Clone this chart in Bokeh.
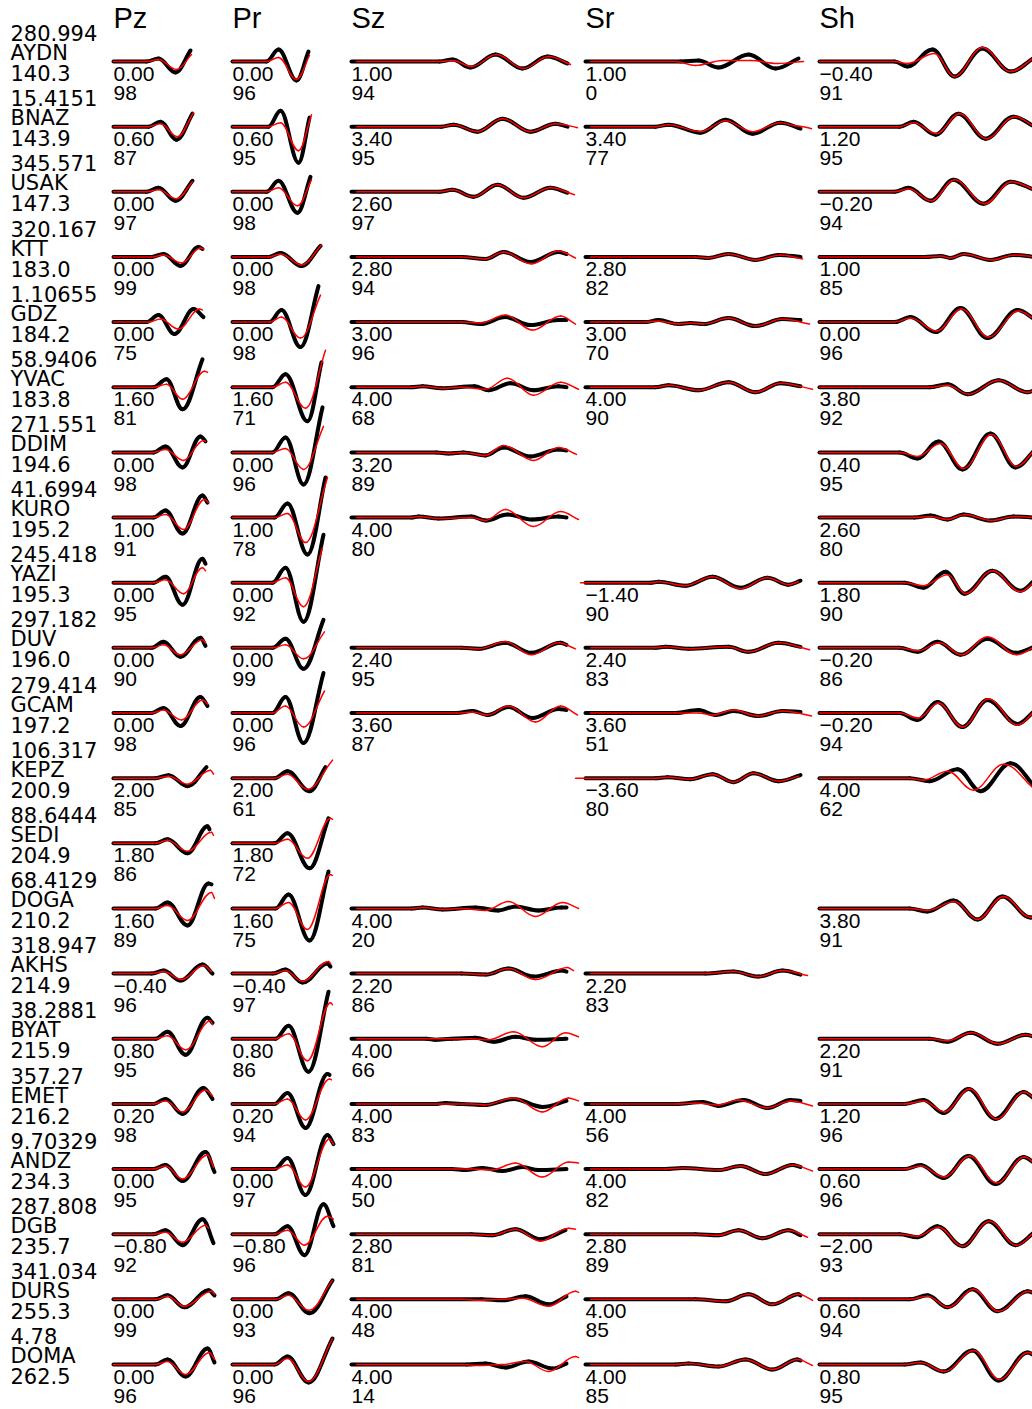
from bokeh.plotting import figure
from bokeh.models import Range1d, ColumnDataSource
from bokeh.embed import file_html
from bokeh.resources import INLINE
from bokeh.core.properties import value

# ---------------- data ----------------
STATIONS = ["AYDN", "BNAZ", "USAK", "KTT", "GDZ", "YVAC", "DDIM", "KURO", "YAZI", "DUV", "GCAM",
            "KEPZ", "SEDI", "DOGA", "AKHS", "BYAT", "EMET", "ANDZ", "DGB", "DURS", "DOMA"]
AZIMUTHS = [280.994, 15.4151, 345.571, 320.167, 1.10655, 58.9406, 271.551, 41.6994, 245.418, 297.182,
            279.414, 106.317, 88.6444, 68.4129, 318.947, 38.2881, 357.27, 9.70329, 287.808, 341.034, 4.78]
DISTANCES = [140.3, 143.9, 147.3, 183.0, 184.2, 183.8, 194.6, 195.2, 195.3, 196.0, 197.2,
             200.9, 204.9, 210.2, 214.9, 215.9, 216.2, 234.3, 235.7, 255.3, 262.5]
COMPONENTS = ["Pz", "Pr", "Sz", "Sr", "Sh"]

SHIFT_PZ = [0.00, 0.60, 0.00, 0.00, 0.00, 1.60, 0.00, 1.00, 0.00, 0.00, 0.00, 2.00, 1.80, 1.60, -0.40, 0.80, 0.20, 0.00, -0.80, 0.00, 0.00]
CC_PZ = [98, 87, 97, 99, 75, 81, 98, 91, 95, 90, 98, 85, 86, 89, 96, 95, 98, 95, 92, 99, 96]
SHIFT_PR = [0.00, 0.60, 0.00, 0.00, 0.00, 1.60, 0.00, 1.00, 0.00, 0.00, 0.00, 2.00, 1.80, 1.60, -0.40, 0.80, 0.20, 0.00, -0.80, 0.00, 0.00]
CC_PR = [96, 95, 98, 98, 98, 71, 96, 78, 92, 99, 96, 61, 72, 75, 97, 86, 94, 97, 96, 93, 96]
SHIFT_SZ = [1.00, 3.40, 2.60, 2.80, 3.00, 4.00, 3.20, 4.00, None, 2.40, 3.60, None, None, 4.00, 2.20, 4.00, 4.00, 4.00, 2.80, 4.00, 4.00]
CC_SZ = [94, 95, 97, 94, 96, 68, 89, 80, None, 95, 87, None, None, 20, 86, 66, 83, 50, 81, 48, 14]
SHIFT_SR = [1.00, 3.40, None, 2.80, 3.00, 4.00, None, None, -1.40, 2.40, 3.60, -3.60, None, None, 2.20, None, 4.00, 4.00, 2.80, 4.00, 4.00]
CC_SR = [0, 77, None, 82, 70, 90, None, None, 90, 83, 51, 80, None, None, 83, None, 56, 82, 89, 85, 85]
SHIFT_SH = [-0.40, 1.20, -0.20, 1.00, 0.00, 3.80, 0.40, 2.60, 1.80, -0.20, -0.20, 4.00, None, 3.80, None, 2.20, 1.20, 0.60, -2.00, 0.60, 0.80]
CC_SH = [91, 95, 94, 85, 96, 92, 95, 80, 90, 86, 94, 62, None, 91, None, 91, 96, 96, 93, 94, 95]

# waveform turning points: (time sample, amplitude), observed (black) and synthetic (red)
PZ_OBS = [
    [(0, 0), (33, 0), (45, 3), (62, -11), (77, 11)],
    [(0, 0), (35, 0), (47, 5), (63, -13), (79, 13)],
    [(0, 0), (33, 0), (45, 4), (62, -9), (79, 11)],
    [(0, 0), (38, 0), (50, 3), (67, -9), (85, 10), (89, 8)],
    [(0, 0), (33, 0), (45, 7), (61, -12), (80, 13), (90, 5)],
    [(0, 0), (40, 0), (53, 8), (69, -22), (89, 28)],
    [(0, 0), (40, 0), (52, 6), (69, -15), (87, 16), (92, 11)],
    [(0, 0), (40, 0), (52, 7), (69, -16), (89, 22), (94, 15)],
    [(0, 0), (40, 0), (52, 6), (69, -22), (89, 24), (92, 19)],
    [(0, 0), (38, 0), (50, 6), (67, -9), (87, 10), (92, 2)],
    [(0, 0), (38, 0), (50, 5), (67, -13), (87, 16), (94, 7)],
    [(0, 0), (42, 0), (55, 3), (74, -8), (93, 11)],
    [(0, 0), (42, 0), (54, 4), (74, -10), (94, 17), (96, 14)],
    [(0, 0), (42, 0), (54, 6), (74, -17), (95, 25), (98, 24)],
    [(0, 0), (38, 0), (50, 3), (67, -7), (89, 9), (99, 0)],
    [(0, 0), (42, 0), (54, 7), (72, -16), (94, 21), (99, 16)],
    [(0, 0), (40, 0), (52, 5), (69, -10), (90, 16), (99, 5)],
    [(0, 0), (40, 0), (52, 4), (69, -12), (92, 17), (101, -3)],
    [(0, 0), (40, 0), (52, 4), (69, -11), (89, 15), (100, -9)],
    [(0, 0), (42, 0), (54, 4), (71, -8), (95, 9), (101, 4)],
    [(0, 0), (42, 0), (54, 5), (72, -12), (94, 16), (101, 2)],
]
PZ_SYN = [
    [(0, 0), (33, 0), (45, 2), (63, -8), (78, 7)],
    [(0, 0), (35, 0), (47, 3), (64, -10), (80, 14)],
    [(0, 0), (33, 0), (45, 2), (63, -7), (79, 10)],
    [(0, 0), (38, 0), (50, 2), (68, -6), (87, 9), (90, 8)],
    [(0, 0), (35, 0), (47, 3), (65, -7), (86, 13), (89, 12)],
    [(0, 0), (40, 0), (53, 3), (69, -12), (91, 16), (94, 15)],
    [(0, 0), (40, 0), (52, 3), (70, -8), (90, 12), (92, 11)],
    [(0, 0), (40, 0), (52, 3), (70, -12), (91, 18), (95, 15)],
    [(0, 0), (40, 0), (52, 3), (70, -11), (89, 15), (92, 12)],
    [(0, 0), (38, 0), (50, 3), (67, -7), (89, 8), (92, 5)],
    [(0, 0), (38, 0), (50, 3), (68, -7), (89, 13), (94, 9)],
    [(0, 0), (42, 0), (55, 2), (74, -6), (97, 8), (100, 4)],
    [(0, 0), (42, 0), (54, 3), (74, -8), (98, 11), (100, 8)],
    [(0, 0), (42, 0), (54, 3), (74, -12), (98, 16), (101, 10)],
    [(0, 0), (38, 0), (50, 2), (68, -6), (90, 8), (98, 2)],
    [(0, 0), (42, 0), (54, 3), (72, -11), (97, 18), (99, 14)],
    [(0, 0), (40, 0), (52, 3), (69, -8), (92, 14), (99, 8)],
    [(0, 0), (40, 0), (52, 3), (69, -10), (94, 14), (100, 2)],
    [(0, 0), (40, 0), (52, 2), (69, -8), (92, 9), (95, 6)],
    [(0, 0), (42, 0), (54, 3), (71, -7), (98, 8), (101, 5)],
    [(0, 0), (42, 0), (54, 3), (72, -10), (96, 12), (101, 5)],
]
PR_OBS = [
    [(0, 0), (34, 0), (46, 12), (64, -19), (76, 10)],
    [(0, 0), (36, 0), (48, 16), (66, -36), (77, 9)],
    [(0, 0), (34, 0), (46, 11), (65, -21), (78, 15)],
    [(0, 0), (36, 0), (48, 4), (69, -9), (88, 11)],
    [(0, 0), (37, 0), (49, 12), (68, -25), (86, 36)],
    [(0, 0), (40, 0), (53, 13), (75, -34), (89, 25)],
    [(0, 0), (40, 0), (53, 15), (71, -32), (90, 45)],
    [(0, 0), (42, 0), (55, 14), (75, -37), (93, 40)],
    [(0, 0), (40, 0), (53, 15), (71, -39), (91, 48)],
    [(0, 0), (40, 0), (53, 9), (71, -21), (91, 28)],
    [(0, 0), (40, 0), (53, 16), (71, -30), (91, 40)],
    [(0, 0), (42, 0), (55, 7), (77, -13), (93, 11)],
    [(0, 0), (42, 0), (55, 10), (77, -25), (96, 25)],
    [(0, 0), (43, 0), (56, 14), (77, -32), (96, 37)],
    [(0, 0), (40, 0), (53, 4), (70, -9), (95, 10), (98, 7)],
    [(0, 0), (43, 0), (56, 13), (76, -33), (96, 47)],
    [(0, 0), (42, 0), (55, 11), (73, -24), (95, 30), (97, 29)],
    [(0, 0), (42, 0), (55, 11), (73, -26), (95, 34), (101, 25)],
    [(0, 0), (42, 0), (55, 8), (72, -21), (91, 30), (101, 8)],
    [(0, 0), (43, 0), (56, 6), (77, -14), (100, 19)],
    [(0, 0), (42, 0), (55, 8), (76, -18), (100, 26)],
]
PR_SYN = [
    [(0, 0), (34, 0), (46, 4), (64, -18), (77, 6)],
    [(0, 0), (36, 0), (48, 4), (66, -24), (79, 12)],
    [(0, 0), (34, 0), (46, 4), (65, -14), (79, 12)],
    [(0, 0), (36, 0), (48, 3), (69, -8), (89, 12)],
    [(0, 0), (37, 0), (49, 5), (68, -16), (88, 27)],
    [(0, 0), (40, 0), (53, 5), (73, -21), (93, 37)],
    [(0, 0), (40, 0), (53, 4), (71, -17), (91, 26)],
    [(0, 0), (42, 0), (55, 4), (73, -25), (95, 40)],
    [(0, 0), (40, 0), (53, 5), (71, -24), (90, 35)],
    [(0, 0), (40, 0), (53, 3), (71, -11), (92, 16)],
    [(0, 0), (40, 0), (53, 7), (71, -14), (92, 22)],
    [(0, 0), (42, 0), (55, 4), (75, -11), (100, 18)],
    [(0, 0), (42, 0), (55, 4), (75, -15), (98, 25), (100, 24)],
    [(0, 0), (43, 0), (56, 6), (75, -21), (98, 34), (100, 33)],
    [(0, 0), (40, 0), (53, 3), (70, -8), (96, 12), (98, 10)],
    [(0, 0), (43, 0), (56, 5), (75, -22), (98, 36), (100, 34)],
    [(0, 0), (42, 0), (55, 5), (73, -16), (97, 25), (99, 24)],
    [(0, 0), (42, 0), (55, 4), (73, -18), (97, 30), (101, 25)],
    [(0, 0), (42, 0), (55, 4), (72, -11), (95, 18), (101, 15)],
    [(0, 0), (43, 0), (56, 4), (76, -11), (100, 19)],
    [(0, 0), (42, 0), (55, 6), (76, -17), (100, 26)],
]
SZ_OBS = [
    [(0, 0), (88, 0), (101, 2), (119, -6), (144, 7), (171, -7), (196, 5), (216, -2)],
    [(0, 0), (90, 0), (102, 2), (126, -5), (151, 8), (179, -5), (204, 3), (216, 0)],
    [(0, 0), (88, 0), (101, 2), (122, -5), (146, 7), (172, -6), (199, 4), (216, -1)],
    [(0, 0), (110, 0), (134, -2), (152, 5), (179, -5), (207, 5), (215, 3)],
    [(0, 0), (110, 0), (129, -2), (154, 5), (179, -3), (207, 2), (215, 2)],
    [(0, 0), (60, 0), (71, 1), (90, -1), (123, 1), (137, -3), (159, 4), (182, -3), (207, 1), (215, 0)],
    [(0, 0), (85, 0), (97, -1), (112, 0), (134, -3), (152, 5), (179, -4), (207, 3), (215, 2)],
    [(0, 0), (60, 0), (67, 1), (87, -1), (120, 1), (134, -3), (156, 3), (181, -2), (207, 1), (215, 0)],
    None,
    [(0, 0), (110, 0), (127, -1), (154, 5), (180, -5), (209, 5), (215, 3)],
    [(0, 0), (105, 0), (121, 2), (136, -2), (157, 6), (181, -5), (207, 4), (215, 3)],
    None,
    None,
    [(0, 0), (60, 0), (71, 1), (91, -1), (124, 1), (147, -2), (164, 2), (187, -2), (210, 1), (215, 1)],
    [(0, 0), (110, 0), (134, -1), (157, 5), (182, -3), (211, 3), (215, 2)],
    [(0, 0), (75, 0), (84, -1), (100, 0), (124, 1), (142, -3), (164, 2), (184, -1), (215, 0)],
    [(0, 0), (85, 0), (94, 1), (110, 0), (134, -1), (162, 5), (191, -3), (215, 3)],
    [(0, 0), (100, 0), (114, -1), (131, 1), (151, -2), (171, 2), (187, -1), (215, 0)],
    [(0, 0), (120, 0), (141, -1), (164, 5), (189, -5), (214, 4)],
    [(0, 0), (130, 0), (151, -1), (174, 3), (197, -5), (215, 3)],
    [(0, 0), (115, 0), (134, 1), (154, -3), (177, 3), (201, -4), (215, 1)],
]
SZ_SYN = [
    [(5, 0), (88, 0), (101, 1), (120, -5), (145, 7), (172, -7), (197, 5), (219, -3)],
    [(5, 0), (90, 0), (102, 2), (126, -5), (151, 8), (179, -5), (204, 3), (226, -1)],
    [(5, 0), (88, 0), (101, 2), (122, -5), (146, 7), (172, -6), (199, 4), (223, -3)],
    [(5, 0), (110, 0), (134, -2), (152, 5), (180, -7), (207, 6), (224, -1)],
    [(5, 0), (110, 0), (129, -1), (154, 7), (181, -8), (209, 6), (224, -2)],
    [(5, 0), (60, 0), (71, 1), (90, -1), (110, 0), (134, -2), (156, 9), (182, -8), (209, 5), (227, -2)],
    [(5, 0), (85, 0), (97, -1), (112, 0), (134, -3), (152, 7), (182, -8), (207, 5), (225, -2)],
    [(5, 0), (60, 0), (67, 1), (87, -1), (120, 0), (134, -3), (154, 8), (182, -9), (209, 6), (227, -2)],
    None,
    [(5, 0), (110, 0), (127, -1), (154, 6), (180, -7), (207, 5), (224, -1)],
    [(5, 0), (105, 0), (121, 1), (136, -2), (157, 7), (184, -9), (209, 7), (226, -2)],
    None,
    None,
    [(5, 0), (60, 0), (71, 1), (91, -1), (110, 0), (134, -2), (157, 7), (184, -8), (211, 6), (227, 0)],
    [(5, 0), (110, 0), (134, -1), (157, 5), (184, -6), (216, 6), (222, 3)],
    [(5, 0), (120, 0), (137, -1), (162, 7), (191, -8), (214, 6), (227, 2)],
    [(5, 0), (120, 0), (134, -1), (162, 6), (191, -8), (217, 6), (227, 3)],
    [(5, 0), (120, 0), (140, -1), (164, 6), (191, -8), (217, 7), (227, 6)],
    [(5, 0), (120, 0), (141, -1), (164, 5), (189, -7), (217, 6), (224, 5)],
    [(5, 0), (110, 0), (127, -1), (150, 0), (171, 1), (197, -7), (224, 8), (227, 7)],
    [(5, 0), (110, 0), (127, -1), (150, 0), (174, 3), (197, -7), (224, 8), (227, 7)],
]
SR_OBS = [
    [(0, 0), (95, 0), (113, 1), (133, -6), (163, 7), (190, -7), (213, 3)],
    [(0, 0), (70, 0), (83, 2), (115, -6), (140, 7), (167, -7), (195, 4), (215, -2)],
    None,
    [(0, 0), (110, 0), (123, -1), (143, 3), (170, -3), (193, 2), (215, 0)],
    [(0, 0), (60, 0), (73, 2), (93, -2), (105, -1), (118, -2), (143, 4), (170, -4), (197, 3), (215, 2)],
    [(0, 0), (70, 0), (83, 2), (113, -3), (143, 5), (170, -5), (195, 4), (215, 1)],
    None,
    None,
    [(0, 0), (65, 0), (73, 1), (100, -3), (127, 6), (155, -5), (182, 5), (203, -2), (215, 2)],
    [(0, 0), (70, 0), (80, 1), (103, -1), (143, 1), (163, -4), (193, 5), (215, 1)],
    [(0, 0), (90, 0), (113, 3), (130, -2), (148, 2), (173, -3), (197, 2), (215, 1)],
    [(0, 0), (70, 0), (82, 1), (105, -1), (127, 4), (148, -4), (168, 5), (193, -3), (215, 3)],
    None,
    None,
    [(0, 0), (120, 0), (148, 2), (173, -3), (197, 3), (215, -1)],
    None,
    [(0, 0), (90, 0), (117, 2), (133, -2), (158, 4), (182, -4), (205, 4), (215, 3)],
    [(0, 0), (80, 0), (97, 1), (133, -1), (155, 3), (180, -5), (207, 4), (215, 2)],
    [(0, 0), (110, 0), (133, -1), (153, 4), (177, -4), (203, 4), (215, -1)],
    [(0, 0), (110, 0), (140, -2), (163, 5), (187, -5), (213, 5), (215, 4)],
    [(0, 0), (90, 0), (103, 1), (133, -2), (160, 5), (187, -5), (212, 5), (215, 4)],
]
SR_SYN = [
    [(5, 0), (90, 0), (110, -4), (137, 1), (165, 1), (192, -2), (218, 0)],
    [(5, 0), (70, 0), (83, 2), (115, -5), (140, 6), (167, -5), (195, 4), (210, 1), (226, -2)],
    None,
    [(5, 0), (110, 0), (123, -1), (143, 3), (170, -3), (195, 2), (217, -2)],
    [(5, 0), (60, 0), (73, 1), (93, -2), (105, -1), (118, -2), (143, 4), (170, -4), (197, 3), (224, -2)],
    [(5, 0), (70, 0), (83, 2), (113, -3), (143, 5), (170, -5), (195, 4), (227, -2)],
    None,
    None,
    [(-5, 0), (65, 0), (73, 1), (100, -3), (127, 6), (155, -6), (182, 5), (203, -2), (213, 1)],
    [(5, 0), (70, 0), (80, 1), (103, -1), (143, 1), (163, -4), (193, 5), (224, -2)],
    [(5, 0), (90, 0), (113, 0), (127, -2), (148, 3), (172, -3), (197, 2), (226, -3)],
    [(-10, 0), (70, 0), (82, 1), (105, -1), (127, 4), (148, -4), (168, 5), (193, -3), (213, 2)],
    None,
    None,
    [(5, 0), (120, 0), (148, 2), (173, -3), (197, 3), (222, -2)],
    None,
    [(5, 0), (90, 0), (110, 1), (133, -1), (153, 4), (182, -4), (205, 3), (227, -2)],
    [(5, 0), (80, 0), (97, 1), (133, -1), (155, 3), (180, -5), (207, 4), (227, -2)],
    [(5, 0), (110, 0), (133, -1), (153, 4), (177, -4), (203, 4), (222, -3)],
    [(5, 0), (110, 0), (140, -2), (163, 5), (187, -5), (213, 5), (227, -1)],
    [(5, 0), (90, 0), (103, 1), (133, -2), (160, 5), (187, -5), (212, 5), (227, -1)],
]
SH_OBS = [
    [(0, 0), (75, 0), (88, -5), (113, 12), (135, -15), (163, 13), (191, -10), (215, 4)],
    [(0, 0), (80, 0), (94, 5), (116, -8), (139, 13), (166, -12), (194, 10), (215, 0)],
    [(0, 0), (75, 0), (89, 4), (111, -9), (134, 12), (164, -12), (191, 10), (215, 2)],
    [(0, 0), (105, 0), (121, 1), (131, -1), (144, 3), (171, -3), (194, 2), (215, 0)],
    [(0, 0), (75, 0), (91, 5), (116, -10), (141, 14), (168, -16), (198, 12), (215, 3)],
    [(0, 0), (110, 0), (128, 3), (148, -7), (179, 7), (208, -5), (215, -3)],
    [(0, 0), (80, 0), (98, -6), (119, 11), (143, -17), (171, 19), (196, -15), (215, 2)],
    [(0, 0), (95, 0), (111, 2), (128, -2), (144, 3), (171, -3), (194, 1), (215, 0)],
    [(0, 0), (85, 0), (104, -5), (126, 11), (145, -11), (173, 12), (201, -8), (215, 2)],
    [(0, 0), (80, 0), (98, -4), (118, 6), (141, -7), (168, 9), (196, -5), (215, 1)],
    [(0, 0), (80, 0), (98, -7), (118, 11), (143, -14), (168, 13), (198, -11), (215, 2)],
    [(0, 0), (90, 0), (110, -3), (138, 9), (161, -13), (191, 15), (215, -8)],
    None,
    [(0, 0), (90, 0), (108, -3), (134, 8), (158, -11), (183, 12), (211, -9), (215, -8)],
    None,
    [(0, 0), (110, 0), (128, -3), (151, 6), (178, -5), (206, 4), (215, 2)],
    [(0, 0), (85, 0), (104, 4), (124, -9), (149, 15), (176, -15), (204, 12), (215, 5)],
    [(0, 0), (85, 0), (101, 4), (124, -9), (149, 13), (176, -15), (204, 12), (215, 6)],
    [(0, 0), (80, 0), (98, -3), (118, 8), (143, -12), (169, 13), (196, -11), (215, 2)],
    [(0, 0), (90, 0), (108, 4), (128, -8), (153, 10), (178, -12), (208, 8), (215, 6)],
    [(0, 0), (85, 0), (101, 2), (124, -7), (153, 14), (179, -16), (208, 12), (215, 9)],
]
SH_SYN = [
    [(0, 0), (75, 0), (88, -2), (115, 8), (135, -15), (163, 14), (191, -10), (215, 4)],
    [(0, 0), (80, 0), (94, 4), (117, -7), (140, 13), (167, -12), (195, 10), (215, 0)],
    [(0, 0), (75, 0), (89, 3), (112, -9), (135, 12), (165, -12), (192, 10), (215, 2)],
    [(0, 0), (105, 0), (121, 1), (131, -1), (145, 3), (172, -3), (195, 2), (215, 0)],
    [(0, 0), (75, 0), (91, 4), (117, -9), (142, 13), (169, -15), (199, 11), (215, 3)],
    [(0, 0), (110, 0), (128, 2), (149, -7), (179, 7), (208, -5), (215, -3)],
    [(0, 0), (80, 0), (98, -4), (121, 9), (144, -16), (172, 18), (197, -14), (215, 2)],
    [(0, 0), (95, 0), (111, 1), (128, -2), (145, 3), (172, -3), (195, 1), (215, 0)],
    [(0, 0), (85, 0), (104, -3), (128, 8), (146, -11), (173, 12), (201, -9), (215, 1)],
    [(0, 0), (80, 0), (98, -3), (120, 5), (142, -7), (168, 11), (197, -7), (215, 1)],
    [(0, 0), (80, 0), (99, -5), (119, 10), (143, -14), (169, 14), (198, -12), (215, 2)],
    [(0, 0), (90, 0), (104, -2), (128, 7), (154, -12), (184, 14), (215, -11)],
    None,
    [(0, 0), (90, 0), (108, -2), (135, 7), (158, -11), (184, 12), (211, -9), (215, -8)],
    None,
    [(0, 0), (110, 0), (128, -2), (152, 6), (179, -5), (206, 4), (215, 2)],
    [(0, 0), (85, 0), (104, 3), (125, -8), (150, 15), (177, -15), (205, 12), (215, 5)],
    [(0, 0), (85, 0), (101, 3), (125, -8), (150, 13), (177, -14), (205, 12), (215, 6)],
    [(0, 0), (80, 0), (98, -2), (119, 7), (143, -12), (170, 13), (197, -11), (215, 2)],
    [(0, 0), (90, 0), (108, 3), (129, -8), (154, 10), (179, -12), (209, 8), (215, 6)],
    [(0, 0), (85, 0), (101, 2), (125, -7), (154, 14), (180, -15), (209, 12), (215, 9)],
]

SHIFTS = [SHIFT_PZ, SHIFT_PR, SHIFT_SZ, SHIFT_SR, SHIFT_SH]
CCS = [CC_PZ, CC_PR, CC_SZ, CC_SR, CC_SH]
OBS = [PZ_OBS, PR_OBS, SZ_OBS, SR_OBS, SH_OBS]
SYN = [PZ_SYN, PR_SYN, SZ_SYN, SR_SYN, SH_SYN]

# ---------------- layout ----------------
FIG_W, FIG_H = 1032, 1409
ROW0, ROW_STEP = 61.0, 65.15
COL_X = [113, 232, 351, 585, 819]
LABEL_X = 10
T_SCALE = 1.0
A_SCALE = 1.0
K = 0.37
LABEL_FS = 21
HEAD_FS = 29
BASE_FIX = 0.4  # svg text baseline compensation (fraction of font size)

p = figure(width=FIG_W, height=FIG_H,
           x_range=Range1d(0, FIG_W),
           y_range=Range1d(FIG_H, 0),
           x_axis_type=None, y_axis_type=None,
           output_backend="svg", toolbar_location=None, min_border=0)
p.outline_line_color = None
p.background_fill_color = "white"
p.border_fill_color = "white"


def segments(traces_by_comp):
    d = dict(x0=[], y0=[], x1=[], y1=[], cx0=[], cy0=[], cx1=[], cy1=[])
    for c, traces in enumerate(traces_by_comp):
        for r, pts in enumerate(traces):
            if not pts:
                continue
            base = ROW0 + r * ROW_STEP
            n = len(pts)
            for i in range(n - 1):
                t0, a0 = pts[i]
                t1, a1 = pts[i + 1]
                X0 = COL_X[c] + t0 * T_SCALE
                X1 = COL_X[c] + t1 * T_SCALE
                Y0 = base - a0 * A_SCALE
                Y1 = base - a1 * A_SCALE
                dx = X1 - X0
                d["x0"].append(X0); d["y0"].append(Y0)
                d["x1"].append(X1); d["y1"].append(Y1)
                d["cx0"].append(X0 + K * dx); d["cy0"].append(Y0)
                if i == n - 2:
                    d["cx1"].append(X1 - K * dx); d["cy1"].append(Y1 - K * (Y1 - Y0))
                else:
                    d["cx1"].append(X1 - K * dx); d["cy1"].append(Y1)
    return ColumnDataSource(d)


bez_kw = dict(x0="x0", y0="y0", x1="x1", y1="y1", cx0="cx0", cy0="cy0", cx1="cx1", cy1="cy1")
p.bezier(source=segments(OBS), line_color="black", line_width=4.0, line_cap="round", **bez_kw)
p.bezier(source=segments(SYN), line_color="red", line_width=1.5, line_cap="round", **bez_kw)

# column headers
p.text(x=COL_X, y=[29 - BASE_FIX * HEAD_FS] * len(COL_X), text=COMPONENTS,
       text_font=value("Liberation Sans"), text_font_size="%dpx" % HEAD_FS,
       text_baseline="alphabetic", text_align="left", text_color="black")

# station labels
lx, ly, lt = [], [], []
for r in range(len(STATIONS)):
    base = ROW0 + r * ROW_STEP - BASE_FIX * LABEL_FS
    lx += [LABEL_X] * 3
    ly += [base - 20, base, base + 20]
    lt += ["%g" % AZIMUTHS[r], STATIONS[r], "%.1f" % DISTANCES[r]]
p.text(x=lx, y=ly, text=lt, text_font=value("DejaVu Sans"), text_font_size="%dpx" % LABEL_FS,
       text_baseline="alphabetic", text_align="left", text_color="black")

# shift / cc labels
cx, cy, ct = [], [], []
for c in range(len(COMPONENTS)):
    for r in range(len(STATIONS)):
        s = SHIFTS[c][r]
        if s is None:
            continue
        base = ROW0 + r * ROW_STEP - BASE_FIX * LABEL_FS
        cx += [COL_X[c], COL_X[c]]
        cy += [base + 20.5, base + 39.5]
        ct += [("%.2f" % s).replace("-", "\u2212"), "%d" % CCS[c][r]]
p.text(x=cx, y=cy, text=ct, text_font=value("Liberation Sans"), text_font_size="%dpx" % LABEL_FS,
       text_baseline="alphabetic", text_align="left", text_color="black")

open("out.html", "w").write(file_html(p, INLINE))
